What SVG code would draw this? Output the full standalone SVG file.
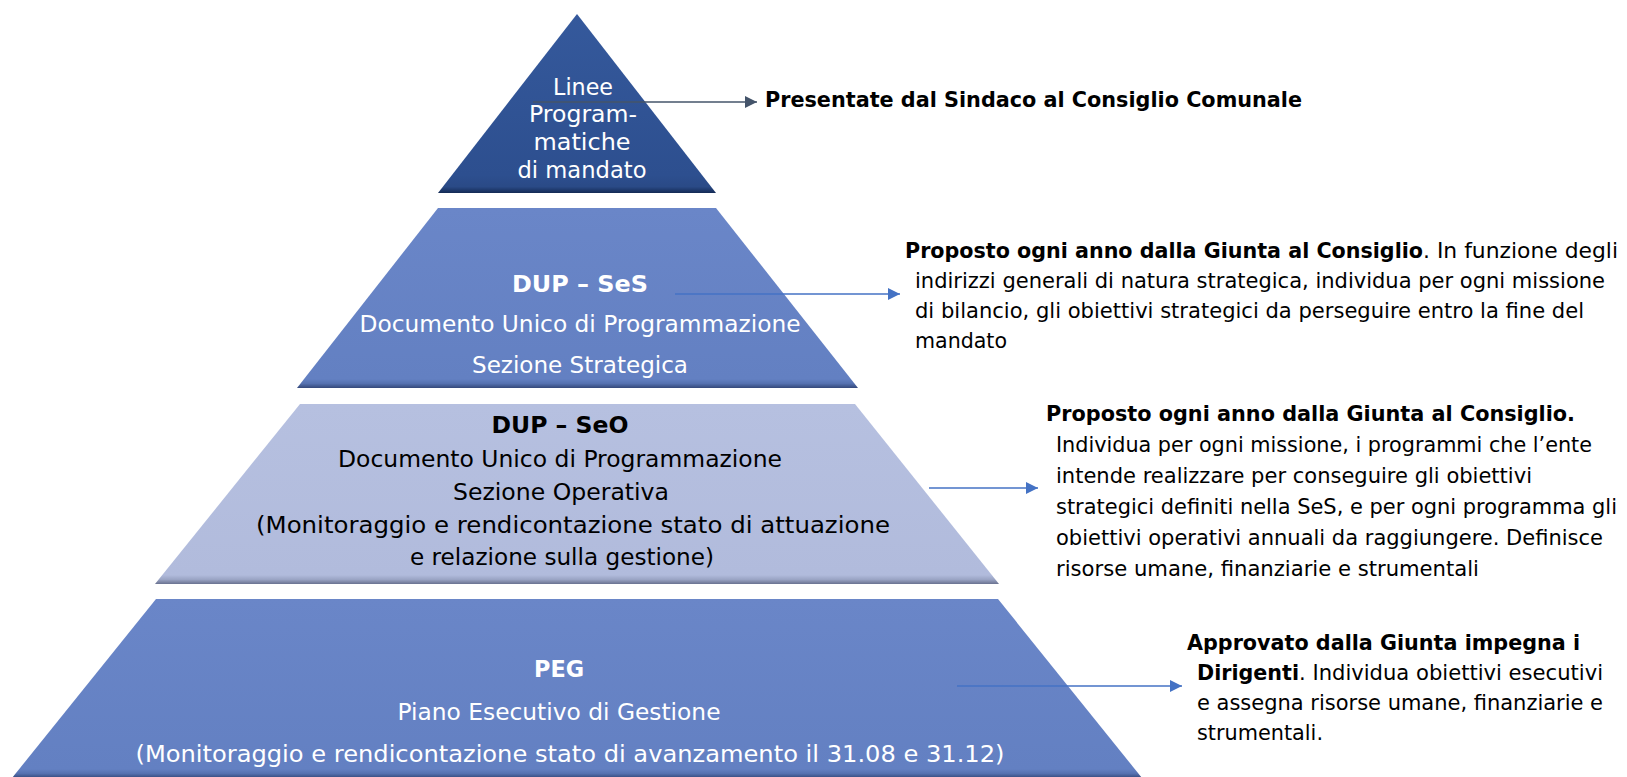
<svg xmlns="http://www.w3.org/2000/svg" width="1627" height="777" viewBox="0 0 1627 777">
<defs>
<linearGradient id="g1" x1="0" y1="0" x2="0" y2="1">
<stop offset="0" stop-color="#35599C"/><stop offset="0.9" stop-color="#2D4F8F"/><stop offset="0.965" stop-color="#2A4A86"/><stop offset="1" stop-color="#142a55"/>
</linearGradient>
<linearGradient id="g2" x1="0" y1="0" x2="0" y2="1">
<stop offset="0" stop-color="#6A86C8"/><stop offset="0.95" stop-color="#6380C2"/><stop offset="0.975" stop-color="#5571B0"/><stop offset="1" stop-color="#34487a"/>
</linearGradient>
<linearGradient id="g3" x1="0" y1="0" x2="0" y2="1">
<stop offset="0" stop-color="#B6C0E0"/><stop offset="0.95" stop-color="#B1BBDC"/><stop offset="0.975" stop-color="#9AA4C4"/><stop offset="1" stop-color="#6a7290"/>
</linearGradient>
<marker id="ah" viewBox="0 0 12 12" refX="12" refY="6" markerWidth="12" markerHeight="12" markerUnits="userSpaceOnUse" orient="auto">
<path d="M0,0 L12,6 L0,12 z" fill="#4472C4"/>
</marker>
<marker id="ahd" viewBox="0 0 12 12" refX="12" refY="6" markerWidth="12" markerHeight="12" markerUnits="userSpaceOnUse" orient="auto">
<path d="M0,0 L12,6 L0,12 z" fill="#44546A"/>
</marker>
<style>
.t{font-family:"DejaVu Sans","Liberation Sans",sans-serif;}
.b{font-weight:bold;}
.w{fill:#ffffff;}
.k{fill:#000000;}
.c{text-anchor:middle;}
.p{font-size:23px;}
.r{font-size:21px;}
.conn{stroke-width:1.3;fill:none;}
</style>
</defs>

<g id="layer1">
<path d="M577,14 L716,193 L438,193 Z" fill="url(#g1)"/>
<text class="t w c p" x="583" y="95" textLength="60" lengthAdjust="spacingAndGlyphs">Linee</text>
<text class="t w c p" x="583" y="122" textLength="108" lengthAdjust="spacingAndGlyphs">Program-</text>
<text class="t w c p" x="582" y="150" textLength="97" lengthAdjust="spacingAndGlyphs">matiche</text>
<text class="t w c p" x="582" y="178" textLength="129" lengthAdjust="spacingAndGlyphs">di mandato</text>
</g>

<g id="layer2">
<path d="M438,208 L716,208 L858,388 L297,388 Z" fill="url(#g2)"/>
<text class="t w c b p" x="580" y="292" textLength="136" lengthAdjust="spacingAndGlyphs">DUP – SeS</text>
<text class="t w c p" x="580" y="332" textLength="441" lengthAdjust="spacingAndGlyphs">Documento Unico di Programmazione</text>
<text class="t w c p" x="580" y="373" textLength="216" lengthAdjust="spacingAndGlyphs">Sezione Strategica</text>
</g>

<g id="layer3">
<path d="M300,404 L855,404 L999,584 L155,584 Z" fill="url(#g3)"/>
<text class="t k c b p" x="560" y="433" textLength="137" lengthAdjust="spacingAndGlyphs">DUP – SeO</text>
<text class="t k c p" x="560" y="467" textLength="444" lengthAdjust="spacingAndGlyphs">Documento Unico di Programmazione</text>
<text class="t k c p" x="561" y="500" textLength="216" lengthAdjust="spacingAndGlyphs">Sezione Operativa</text>
<text class="t k c p" x="573" y="533" textLength="634" lengthAdjust="spacingAndGlyphs">(Monitoraggio e rendicontazione stato di attuazione</text>
<text class="t k c p" x="562" y="565" textLength="304" lengthAdjust="spacingAndGlyphs">e relazione sulla gestione)</text>
</g>

<g id="layer4">
<path d="M156,599 L998,599 L1142,778 L12,778 Z" fill="url(#g2)"/>
<text class="t w c b p" x="559" y="677" textLength="50" lengthAdjust="spacingAndGlyphs">PEG</text>
<text class="t w c p" x="559" y="720" textLength="323" lengthAdjust="spacingAndGlyphs">Piano Esecutivo di Gestione</text>
<text class="t w c p" x="570" y="762" textLength="869" lengthAdjust="spacingAndGlyphs">(Monitoraggio e rendicontazione stato di avanzamento il 31.08 e 31.12)</text>
</g>

<g id="connectors">
<line class="conn" x1="533" y1="102" x2="757" y2="102" stroke="#44546A" marker-end="url(#ahd)"/>
<line class="conn" x1="675" y1="294" x2="900" y2="294" stroke="#4472C4" marker-end="url(#ah)"/>
<line class="conn" x1="929" y1="488" x2="1038" y2="488" stroke="#4472C4" marker-end="url(#ah)"/>
<line class="conn" x1="957" y1="686" x2="1182" y2="686" stroke="#4472C4" marker-end="url(#ah)"/>
</g>

<g id="note1">
<text class="t k b" x="765" y="107" font-size="21" textLength="537" lengthAdjust="spacingAndGlyphs">Presentate dal Sindaco al Consiglio Comunale</text>
</g>

<g id="note2">
<text class="t k b r" x="905" y="258" textLength="518" lengthAdjust="spacingAndGlyphs">Proposto ogni anno dalla Giunta al Consiglio</text>
<text class="t k r" x="1423" y="258" textLength="195" lengthAdjust="spacingAndGlyphs">. In funzione degli</text>
<text class="t k r" x="915" y="288" textLength="690" lengthAdjust="spacingAndGlyphs">indirizzi generali di natura strategica, individua per ogni missione</text>
<text class="t k r" x="915" y="318" textLength="669" lengthAdjust="spacingAndGlyphs">di bilancio, gli obiettivi strategici da perseguire entro la fine del</text>
<text class="t k r" x="915" y="348" textLength="92" lengthAdjust="spacingAndGlyphs">mandato</text>
</g>

<g id="note3">
<text class="t k b r" x="1046" y="421" textLength="529" lengthAdjust="spacingAndGlyphs">Proposto ogni anno dalla Giunta al Consiglio.</text>
<text class="t k r" x="1056" y="452" textLength="536" lengthAdjust="spacingAndGlyphs">Individua per ogni missione, i programmi che l’ente</text>
<text class="t k r" x="1056" y="483" textLength="476" lengthAdjust="spacingAndGlyphs">intende realizzare per conseguire gli obiettivi</text>
<text class="t k r" x="1056" y="514" textLength="561" lengthAdjust="spacingAndGlyphs">strategici definiti nella SeS, e per ogni programma gli</text>
<text class="t k r" x="1056" y="545" textLength="547" lengthAdjust="spacingAndGlyphs">obiettivi operativi annuali da raggiungere. Definisce</text>
<text class="t k r" x="1056" y="576" textLength="423" lengthAdjust="spacingAndGlyphs">risorse umane, finanziarie e strumentali</text>
</g>

<g id="note4">
<text class="t k b r" x="1187" y="650" textLength="393" lengthAdjust="spacingAndGlyphs">Approvato dalla Giunta impegna i</text>
<text class="t k b r" x="1197" y="680" textLength="102" lengthAdjust="spacingAndGlyphs">Dirigenti</text>
<text class="t k r" x="1299" y="680" textLength="304" lengthAdjust="spacingAndGlyphs">. Individua obiettivi esecutivi</text>
<text class="t k r" x="1197" y="710" textLength="406" lengthAdjust="spacingAndGlyphs">e assegna risorse umane, finanziarie e</text>
<text class="t k r" x="1197" y="740" textLength="126" lengthAdjust="spacingAndGlyphs">strumentali.</text>
</g>
</svg>
